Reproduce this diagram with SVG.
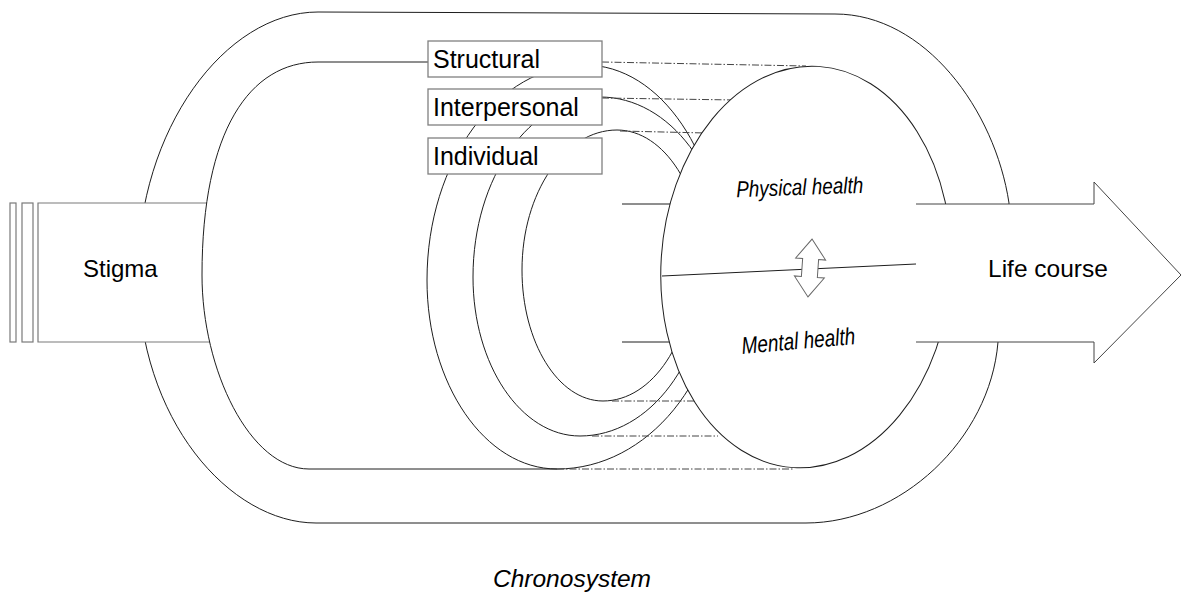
<svg xmlns="http://www.w3.org/2000/svg" width="1182" height="595" viewBox="0 0 1182 595">
<style>
.ln{fill:none;stroke:#1e1e1e;stroke-width:1}
.wf{fill:#fff;stroke:#1e1e1e;stroke-width:1}
.box{fill:#fff;stroke:#808080;stroke-width:1.3}
.gr{fill:none;stroke:#7a7a7a;stroke-width:1.2}
.dd{fill:none;stroke:#444;stroke-width:1;stroke-dasharray:7 2 1.5 2}
.t{font-family:"Liberation Sans",Arial,sans-serif;fill:#000}
.it{font-style:italic}
</style>
<rect width="1182" height="595" fill="#fff"/>
<g id="chronosystem">
<path class="ln" d="M318,12 L835,14 C925,14 995,110 1009,203 L998,342 C990,440 900,523 806,523 L316,523 C230,523 138,420 138,272 C138,130 225,12 318,12 Z"/>
<text class="t it" x="572" y="587" text-anchor="middle" font-size="24" textLength="158" lengthAdjust="spacingAndGlyphs">Chronosystem</text>
</g>
<g id="stigma">
<rect x="10" y="203" width="6" height="139" fill="#fff" stroke="#7a7a7a" stroke-width="1.2"/>
<rect x="22" y="203" width="11" height="139" fill="#fff" stroke="#7a7a7a" stroke-width="1.2"/>
<rect x="38" y="203" width="174" height="139" fill="#fff"/>
<path class="gr" d="M207,203 H38 V342 H210"/>
<text class="t" x="83" y="277" font-size="24">Stigma</text>
</g>
<g id="microsystem">
<path class="ln" d="M428,62 L318,62 C250,62 202,130 202,275 C202,370 250,469 309,469 L557,469"/>
</g>
<g id="structural-ring">
<path class="ln" d="M722,267 C722,155.5 660.6,65 585,65 C497.8,65 427,161.3 427,280 C427,384.3 485.2,469 557,469 C648.1,469 722,378.5 722,267 Z"/>
</g>
<g id="interpersonal-ring">
<path class="ln" d="M727,266 C727,172.7 670.1,97 600,97 C529.9,97 473,177.6 473,277 C473,364.8 520.9,436 580,436 C650.1,436 707,359.8 707,266"/>
</g>
<g id="individual-ring">
<path class="ln" d="M703,265 C703,190.4 664.5,130 617,130 C564.6,130 522,192.7 522,270 C522,342.3 558.3,401 603,401 C652.7,401 693,340 693,265"/>
</g>
<g id="connectors">
<path class="dd" d="M602,62 L806,66"/>
<path class="dd" d="M602,98 L736,100"/>
<path class="dd" d="M620,131 L706,133"/>
<path class="dd" d="M612,401 L694,401"/>
<path class="dd" d="M592,436 L718,436"/>
<path class="dd" d="M557,469 L794,469"/>
<path class="ln" d="M622,204 L690,204 M622,342 L690,342" stroke="#444"/>
</g>
<g id="health">
<ellipse class="wf" cx="806" cy="267" rx="145" ry="201" transform="rotate(3.5 806 267)"/>
<path class="ln" d="M662,276 L916,264"/>
<text class="t it" x="800" y="195" text-anchor="middle" font-size="23" textLength="127" lengthAdjust="spacingAndGlyphs" transform="rotate(-2 800 195)">Physical health</text>
<text class="t it" x="799" y="349" text-anchor="middle" font-size="24" textLength="114" lengthAdjust="spacingAndGlyphs" transform="rotate(-5 799 349)">Mental health</text>
<polygon points="810,239 825,259 818,259 818,277 825,277 810,297 795,277 802,277 802,259 795,259" fill="#fff" stroke="#666" stroke-width="1" transform="rotate(4 810 268)"/>
</g>
<g id="life-course">
<path d="M916,204 L1094,204 L1094,182 L1181,275 L1094,363 L1094,342 L916,342 Z" fill="#fff"/>
<path d="M916,204 L1094,204 L1094,182 L1181,275 L1094,363 L1094,342 L916,342" fill="none" stroke="#444" stroke-width="1"/>
<text class="t" x="988" y="277" font-size="24.5">Life course</text>
</g>
<g id="structural">
<rect class="box" x="428" y="41" width="174" height="36"/>
<text class="t" x="433" y="68" font-size="25">Structural</text>
</g>
<g id="interpersonal">
<rect class="box" x="428" y="89" width="174" height="36"/>
<text class="t" x="433" y="116" font-size="25">Interpersonal</text>
</g>
<g id="individual">
<rect class="box" x="428" y="138" width="174" height="36"/>
<text class="t" x="433" y="165" font-size="25">Individual</text>
</g>
</svg>
